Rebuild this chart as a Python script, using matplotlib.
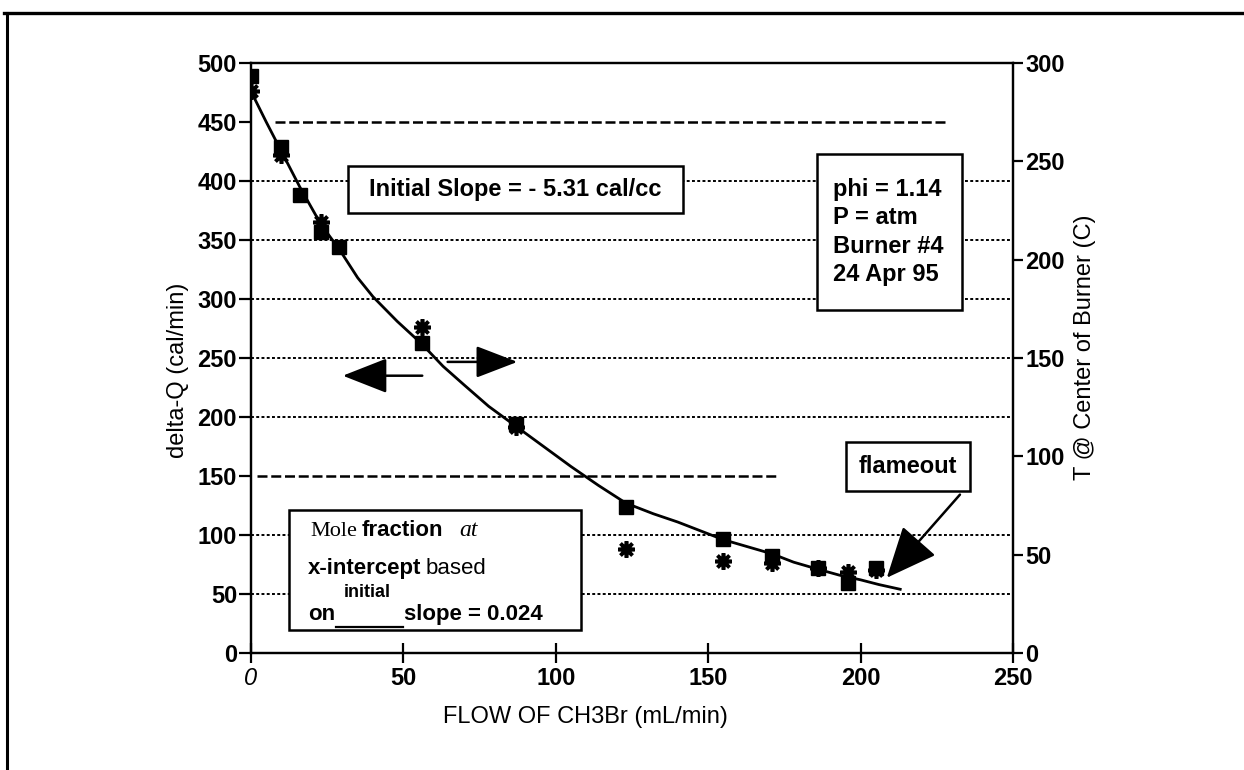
import matplotlib.pyplot as plt
from matplotlib.patches import Rectangle, FancyArrowPatch
from matplotlib.lines import Line2D

# delta-Q data (squares, left axis)
flow_q = [0, 10, 16, 23, 29, 56, 87, 123, 155, 171, 186, 196, 205]
delta_q = [489, 429, 388, 357, 344, 263, 194, 124, 97, 82, 72, 59, 72]

# temperature at burner centre (asterisks, right axis)
flow_t = [0, 10, 23, 56, 87, 123, 155, 171, 186, 196, 205]
temp_c = [286, 253, 219, 166, 115, 53, 47, 46, 43, 41, 42]

# fitted curve
fit_x = [0, 5, 10, 16, 23, 29, 35, 40, 48, 56, 63, 70, 78, 87, 96, 105, 114, 123,
         132, 140, 148, 155, 163, 171, 178, 186, 193, 200, 206, 213]
fit_y = [476, 450, 425, 395, 363, 342, 318, 302, 281, 262, 243, 227, 209, 192, 175,
         158, 142, 127, 118, 111, 103, 96, 90, 84, 77, 71, 66, 62, 58, 54]

x_ticks = [0, 50, 100, 150, 200, 250]
left_ticks = [0, 50, 100, 150, 200, 250, 300, 350, 400, 450, 500]
right_ticks = [0, 50, 100, 150, 200, 250, 300]
grid_dotted = [50, 100, 200, 250, 300, 350, 400]

FONT = "Liberation Sans"
FS = 16

fig = plt.figure(figsize=(12.44, 7.70), dpi=100)
W, H = 1244, 770

# outer frame (top and left edges only)
fig.add_artist(Line2D([4 / W, 1], [1 - 13 / H, 1 - 13 / H], color="black", lw=2.4))
fig.add_artist(Line2D([7 / W, 7 / W], [1 - 13 / H, 0], color="black", lw=2.2))

ax = fig.add_axes([251 / W, 1 - 653 / H, (1013 - 251) / W, (653 - 63) / H])
ax2 = ax.twinx()

ax.set_xlim(0, 250)
ax.set_ylim(0, 500)
ax2.set_ylim(0, 300)

for a in (ax, ax2):
    for s in a.spines.values():
        s.set_linewidth(1.6)

# grid lines
for g in grid_dotted:
    ax.axhline(g, color="black", lw=1.4, ls=(0, (1.5, 1.2)), zorder=1)
ax.hlines(450, 8, 228, color="black", lw=1.8, ls=(0, (4, 1.5)), zorder=1)
ax.hlines(150, 2, 173, color="black", lw=1.8, ls=(0, (4, 1.5)), zorder=1)

# data
ax.plot(fit_x, fit_y, color="black", lw=2, zorder=4)
ax.plot(flow_q, delta_q, ls="none", marker="s", ms=10, color="black", zorder=5)
ax2.plot(flow_t, temp_c, ls="none", marker=(8, 2, 0), ms=12, mew=2.6, color="black", zorder=5)

# ticks
ax.set_xticks(x_ticks)
ax.set_yticks(left_ticks)
ax2.set_yticks(right_ticks)
ax.tick_params(axis="x", direction="inout", length=14, width=1.6, pad=3)
ax.tick_params(axis="y", direction="out", length=9, width=1.6, pad=1)
ax2.tick_params(axis="y", direction="out", length=7, width=1.6, pad=2)
for lab in ax.get_xticklabels() + ax.get_yticklabels() + ax2.get_yticklabels():
    lab.set_fontfamily(FONT)
    lab.set_fontsize(FS + 1)
    lab.set_fontweight("bold")
ax.get_xticklabels()[0].set_fontstyle("italic")
ax.get_xticklabels()[0].set_fontweight("normal")

# axis labels
fig.text(585 / W, 1 - 717 / H, "FLOW OF CH3Br (mL/min)", family=FONT, fontsize=FS + 1,
         ha="center", va="center")
fig.text(178 / W, 1 - 370 / H, "delta-Q (cal/min)", family=FONT, fontsize=FS + 1,
         rotation=90, ha="center", va="center")
fig.text(1085 / W, 1 - 347 / H, "T @ Center of Burner (C)", family=FONT, fontsize=FS + 1,
         rotation=90, ha="center", va="center")

box_kw = dict(facecolor="white", edgecolor="black", lw=1.8, zorder=6)

# initial slope box
ax.add_patch(Rectangle((31.8, 373.3), 109.9, 39.1, **box_kw))
ax.text(86.6, 392.9, "Initial Slope = - 5.31 cal/cc", family=FONT, fontsize=FS + 1,
        fontweight="bold", ha="center", va="center", zorder=7)

# conditions box
ax.add_patch(Rectangle((185.7, 290.8), 47.6, 131.8, **box_kw))
ax.text(191, 356.7, "phi = 1.14\nP = atm\nBurner #4\n24 Apr 95", family=FONT,
        fontsize=FS + 1, fontweight="bold", ha="left", va="center", linespacing=1.3, zorder=7)

# flameout box and arrow
ax.add_patch(Rectangle((195.2, 137), 40.7, 41.6, **box_kw))
ax.text(215.6, 158.2, "flameout", family=FONT, fontsize=FS + 1, fontweight="bold",
        ha="center", va="center", zorder=7)
ax.add_patch(FancyArrowPatch((233.2, 136), (208, 62), arrowstyle="-|>,head_length=1.6,head_width=0.7",
                             mutation_scale=20, color="black", lw=1.8, zorder=7))

# direction arrows
ax.add_patch(FancyArrowPatch((57.1, 235), (29.2, 235), arrowstyle="-|>,head_length=1.4,head_width=0.55",
                             mutation_scale=20, color="black", lw=1.8, zorder=7))
ax.add_patch(FancyArrowPatch((63.6, 246.7), (88.3, 246.7), arrowstyle="-|>,head_length=1.3,head_width=0.5",
                             mutation_scale=20, color="black", lw=1.8, zorder=7))

# mole fraction box
ax.add_patch(Rectangle((12.5, 19.6), 95.8, 102, **box_kw))
t1 = ax.text(19.4, 99.5, "Mole", family="Liberation Serif", fontsize=FS, va="baseline", zorder=7)
t2 = ax.annotate("fraction", xy=(1, 0), xycoords=t1, xytext=(3, 0), textcoords="offset points",
                 family=FONT, fontsize=FS, fontweight="bold", va="bottom", zorder=7)
ax.annotate("at", xy=(1, 0), xycoords=t2, xytext=(12, 0), textcoords="offset points",
            family="Liberation Serif", fontsize=FS + 1, fontstyle="italic", va="bottom", zorder=7)
t3 = ax.text(18.7, 67, "x-intercept", family=FONT, fontsize=FS, fontweight="bold",
             va="baseline", zorder=7)
ax.annotate("based", xy=(1, 0), xycoords=t3, xytext=(3, 0), textcoords="offset points",
            family=FONT, fontsize=FS, va="bottom", zorder=7)
ax.text(18.7, 28, "on", family=FONT, fontsize=FS, fontweight="bold", va="baseline", zorder=7)
ax.text(30.5, 47.5, "initial", family=FONT, fontsize=FS - 3, fontweight="bold", va="baseline", zorder=7)
ax.text(50.2, 28, "slope = 0.024", family=FONT, fontsize=FS, fontweight="bold", va="baseline", zorder=7)
ax.plot([27.8, 49.9], [22, 22], color="black", lw=1.6, zorder=7)

fig.savefig("out.png", dpi=100)
